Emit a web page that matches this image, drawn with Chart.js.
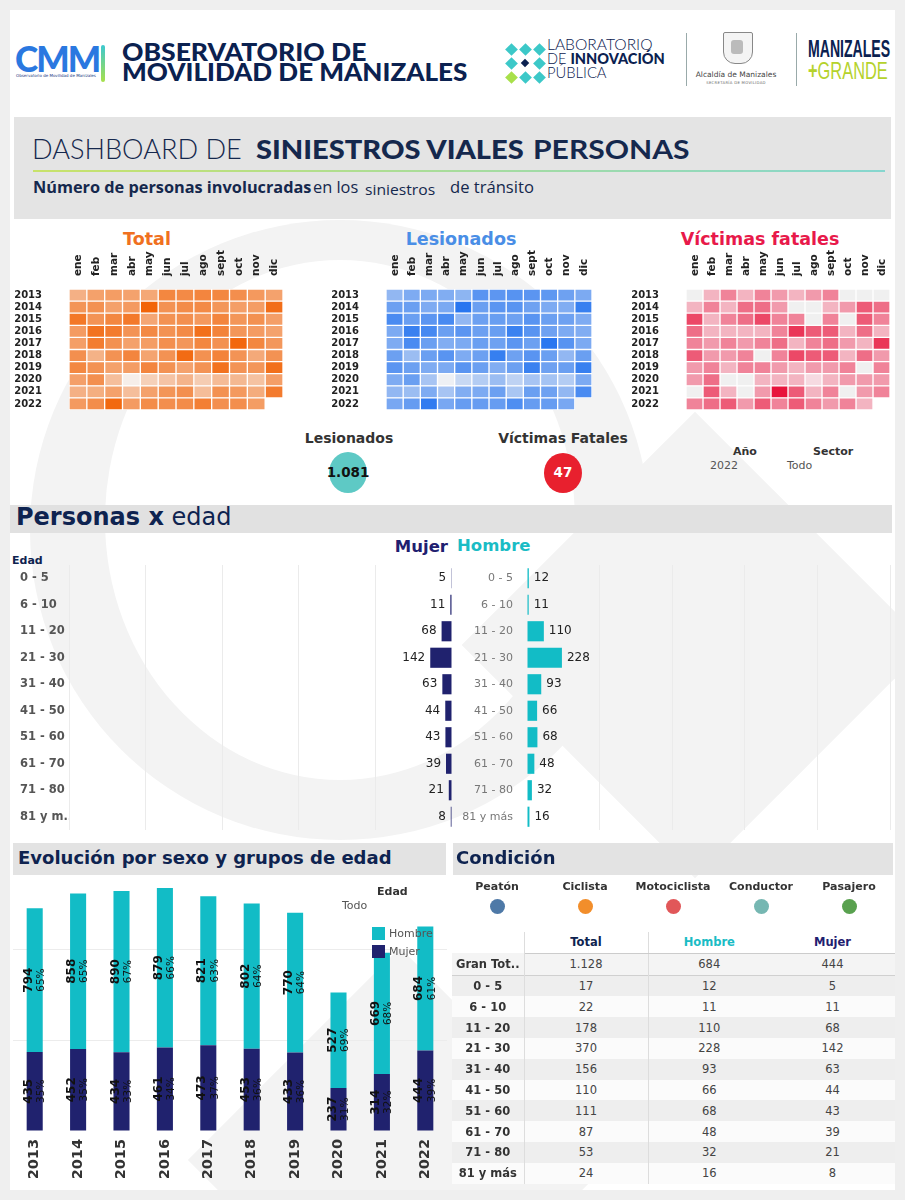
<!DOCTYPE html>
<html><head><meta charset="utf-8">
<script src="https://cdn.jsdelivr.net/npm/chart.js@4.4.1/dist/chart.umd.min.js"></script>
<style>
body{margin:0;width:905px;height:1200px;background:#efefef;position:relative;overflow:hidden;font-family:"DejaVu Sans",sans-serif;color:#222}
.a{position:absolute}
#card{left:10px;top:10px;width:885px;height:1180px;background:#fff;overflow:hidden}
.wm{position:absolute;background:#f3f3f3}
canvas{position:absolute}
.band{position:absolute;background:#e3e3e3}
.lbl{position:absolute;white-space:nowrap}
table{border-collapse:collapse}
</style></head><body>
<div id="card" class="a">
  <div class="wm" style="left:20px;top:210px;width:620px;height:620px;border-radius:50%;"></div>
  <div class="wm" style="left:95px;top:250px;width:470px;height:520px;border-radius:50%;background:#fff"></div>
  <div class="wm" style="left:520px;top:470px;width:330px;height:330px;transform:rotate(45deg)"></div>
  <div class="wm" style="left:240px;top:1000px;width:300px;height:300px;transform:rotate(45deg)"></div>
</div>

<!-- header -->
<div id="cmm" class="lbl" style="left:15px;top:39px;font-family:Lato,sans-serif;font-weight:900;font-size:36px;color:#2a78e0;letter-spacing:-2px;line-height:38px">CMM</div>
<div class="lbl" style="left:16px;top:73px;font-size:4px;color:#1a3a80">Observatorio de Movilidad de Manizales</div>
<div class="a" style="left:101px;top:45px;width:4px;height:37px;background:linear-gradient(#3cc8d0,#a8e04a);border-radius:2px"></div>
<div id="obs1" class="lbl" style="left:122px;top:40px;font-family:Lato,sans-serif;font-weight:900;font-size:24px;line-height:24px;color:#0b2150">OBSERVATORIO DE</div>
<div id="obs2" class="lbl" style="left:122px;top:60px;font-family:Lato,sans-serif;font-weight:900;font-size:24px;line-height:24px;color:#0b2150">MOVILIDAD DE MANIZALES</div>

<div id="labicon" class="a" style="left:500px;top:38px;width:44px;height:44px"></div>
<div id="lab1" class="lbl" style="left:547px;top:37px;font-family:Lato,sans-serif;font-size:15px;line-height:15px;color:#0b2150;font-weight:300">LABORATORIO</div>
<div id="lab2" class="lbl" style="left:547px;top:51px;font-family:Lato,sans-serif;font-size:15px;line-height:15px;color:#0b2150;font-weight:300">DE <b style="font-weight:900">INNOVACIÓN</b></div>
<div id="lab3" class="lbl" style="left:547px;top:65px;font-family:Lato,sans-serif;font-size:15px;line-height:15px;color:#0b2150;font-weight:300">PÚBLICA</div>
<div class="a" style="left:686px;top:33px;width:1px;height:53px;background:#9aa"></div>
<div class="a" style="left:723px;top:32px;width:28px;height:30px;border:1.5px solid #888;border-radius:2px 2px 12px 12px;background:#f4f4f4"></div>
<div class="a" style="left:731px;top:40px;width:12px;height:14px;background:#bbb;border-radius:3px"></div>
<div class="lbl" style="left:693px;top:70px;font-size:7.5px;color:#444;width:86px;text-align:center">Alcaldía de Manizales</div>
<div class="lbl" style="left:693px;top:80px;font-size:3.8px;color:#666;width:86px;text-align:center;letter-spacing:.3px">SECRETARÍA DE MOVILIDAD</div>
<div class="a" style="left:796px;top:33px;width:1px;height:53px;background:#9aa"></div>
<div id="mzl" class="lbl" style="left:808px;top:37px;font-family:'Liberation Sans',sans-serif;font-weight:bold;font-size:23px;line-height:25px;color:#0b2150">MANIZALES</div>
<div id="grd" class="lbl" style="left:808px;top:58px;font-family:'Liberation Sans',sans-serif;font-size:24px;line-height:26px;color:#b5d22c"><b>+</b>GRANDE</div>

<div class="band" style="left:14px;top:117px;width:877px;height:102px;background:#e4e4e4"></div>
<div id="ds1" class="lbl" style="left:32px;top:134px;font-family:Lato,sans-serif;font-size:27px;line-height:30px;color:#15284d;font-weight:300">DASHBOARD DE</div>
<div id="ds2" class="lbl" style="left:256px;top:134px;font-family:Lato,sans-serif;font-size:27px;line-height:30px;color:#15284d;font-weight:900">SINIESTROS VIALES</div>
<div id="ds3" class="lbl" style="left:533px;top:134px;font-family:Lato,sans-serif;font-size:27px;line-height:30px;color:#15284d;font-weight:700">PERSONAS</div>
<div class="a" style="left:33px;top:170px;width:852px;height:2px;background:linear-gradient(90deg,#c8e26a,#86d6cf)"></div>
<div id="sb1" class="lbl" style="left:33px;top:177px;font-family:'Open Sans',sans-serif;font-size:16px;line-height:20px;color:#15284d;font-weight:bold">Número de personas involucradas</div>
<div id="sb2" class="lbl" style="left:313px;top:177px;font-family:'Open Sans',sans-serif;font-size:16px;line-height:20px;color:#15284d">en los</div>
<div id="sb3" class="lbl" style="left:365px;top:179px;font-family:'Open Sans',sans-serif;font-size:15px;line-height:20px;color:#15284d">siniestros</div>
<div id="sb4" class="lbl" style="left:450px;top:177px;font-family:'Open Sans',sans-serif;font-size:16px;line-height:20px;color:#15284d">de tránsito</div>

<!-- heatmap titles -->
<div class="lbl" style="left:97px;top:229px;width:100px;text-align:center;font-weight:bold;font-size:17.5px;color:#f07020">Total</div>
<div class="lbl" style="left:381px;top:229px;width:160px;text-align:center;font-weight:bold;font-size:17.5px;color:#4a8ee6">Lesionados</div>
<div class="lbl" style="left:660px;top:229px;width:200px;text-align:center;font-weight:bold;font-size:17.5px;color:#e8194a">Víctimas fatales</div>
<canvas id="hmTotal" width="270" height="160" style="left:15px;top:250px"></canvas>
<canvas id="hmLes" width="262" height="160" style="left:332px;top:250px"></canvas>
<canvas id="hmFat" width="260" height="160" style="left:632px;top:250px"></canvas>

<!-- KPIs -->
<div class="lbl" style="left:289px;top:430px;width:120px;text-align:center;font-weight:bold;font-size:14px;color:#333">Lesionados</div>
<div class="a" style="left:329px;top:452px;width:38px;height:41px;border-radius:50%;background:#5ec9c5"></div>
<div id="kpiLes" class="lbl" style="left:318px;top:464px;width:60px;text-align:center;font-weight:bold;font-size:13.5px;color:#111"></div>
<div class="lbl" style="left:483px;top:430px;width:160px;text-align:center;font-weight:bold;font-size:14px;color:#333">Víctimas Fatales</div>
<div class="a" style="left:544px;top:453px;width:38px;height:40px;border-radius:50%;background:#e8202e"></div>
<div id="kpiFat" class="lbl" style="left:533px;top:464px;width:60px;text-align:center;font-weight:bold;font-size:13.5px;color:#fff"></div>
<div class="lbl" style="left:733px;top:445px;font-weight:bold;font-size:11px;color:#333">Año</div>
<div class="lbl" style="left:710px;top:459px;font-size:11px;color:#555">2022</div>
<div class="lbl" style="left:813px;top:445px;font-weight:bold;font-size:11px;color:#333">Sector</div>
<div class="lbl" style="left:787px;top:459px;font-size:11px;color:#555">Todo</div>

<!-- Personas x edad -->
<div class="band" style="left:10px;top:505px;width:882px;height:28px;background:#e1e1e1"></div>
<div class="lbl" style="left:16px;top:503px;font-size:24px;color:#0e2350"><b>Personas x</b> edad</div>
<div class="lbl" style="left:12px;top:554px;font-weight:bold;font-size:11px;color:#0e2350">Edad</div>
<div class="lbl" style="left:330px;top:537px;width:118px;text-align:right;font-weight:bold;font-size:16.5px;color:#1f2070">Mujer</div>
<div class="lbl" style="left:457px;top:536px;font-weight:bold;font-size:16.5px;color:#1abcc5">Hombre</div>
<canvas id="pyrM" width="440" height="265" style="left:15px;top:565px"></canvas>
<canvas id="pyrH" width="435" height="265" style="left:460px;top:565px"></canvas>

<!-- Evolución -->
<canvas id="evo" width="434" height="326" style="left:13px;top:859px"></canvas>
<div class="band" style="left:13px;top:843px;width:433px;height:32px"></div>
<div class="lbl" style="left:18px;top:847px;font-weight:bold;font-size:18px;color:#0e2350">Evolución por sexo y grupos de edad</div>
<div class="lbl" style="left:377px;top:885px;font-weight:bold;font-size:11px;color:#333">Edad</div>
<div class="lbl" style="left:342px;top:899px;font-size:11px;color:#555">Todo</div>
<div class="a" style="left:372px;top:927px;width:13px;height:13px;background:#12bcc6"></div>
<div class="lbl" style="left:389px;top:927px;font-size:11px;color:#555">Hombre</div>
<div class="a" style="left:372px;top:945px;width:13px;height:13px;background:#20226e"></div>
<div class="lbl" style="left:389px;top:945px;font-size:11px;color:#555">Mujer</div>

<!-- Condición -->
<div class="band" style="left:453px;top:843px;width:440px;height:32px"></div>
<div class="lbl" style="left:456px;top:847px;font-weight:bold;font-size:18px;color:#0e2350">Condición</div>
<div id="condLegend"></div>
<div id="tableWrap" class="a" style="left:452px;top:932px;width:443px"></div>

<script>
// ---------- data ----------
const years = ['2013','2014','2015','2016','2017','2018','2019','2020','2021','2022'];
const months = ['ene','feb','mar','abr','may','jun','jul','ago','sept','oct','nov','dic'];
const lesionadosMensual = [
  [76, 85, 86, 84, 78, 104, 102, 105, 103, 101, 93, 86],
  [94, 95, 85, 87, 131, 95, 103, 104, 93, 86, 84, 122],
  [112, 95, 103, 113, 76, 94, 96, 93, 104, 95, 93, 85],
  [86, 121, 114, 95, 103, 94, 96, 120, 104, 93, 86, 84],
  [85, 112, 95, 84, 86, 95, 93, 103, 94, 130, 105, 86],
  [94, 72, 95, 104, 85, 94, 123, 93, 104, 95, 76, 95],
  [103, 94, 85, 86, 104, 95, 84, 94, 121, 93, 95, 122],
  [85, 95, 67, 45, 55, 62, 72, 58, 67, 68, 62, 86],
  [76, 72, 85, 67, 84, 86, 94, 66, 95, 93, 76, 112],
  [88, 97, 126, 88, 97, 97, 97, 109, 97, 97, 88, null]
];
const fatalesMensual = [
  [0, 2, 4, 2, 4, 3, 2, 3, 4, 0, 0, 0],
  [2, 4, 2, 5, 5, 3, 0, 0, 2, 3, 6, 5],
  [7, 2, 4, 5, 7, 4, 4, 0, 4, 0, 6, 4],
  [5, 2, 2, 2, 2, 4, 8, 6, 6, 2, 5, 2],
  [4, 3, 4, 3, 4, 5, 2, 4, 5, 3, 2, 8],
  [6, 3, 3, 4, 0, 4, 7, 6, 6, 2, 5, 3],
  [3, 4, 2, 4, 4, 3, 2, 3, 3, 4, 0, 4],
  [3, 5, 0, 0, 2, 2, 2, 1, 2, 3, 3, 3],
  [0, 6, 2, 0, 3, 10, 6, 2, 4, 0, 3, 4],
  [4, 5, 6, 3, 6, 4, 6, 4, 3, 4, 2, null]
];
const edades = ['0 - 5','6 - 10','11 - 20','21 - 30','31 - 40','41 - 50','51 - 60','61 - 70','71 - 80','81 y más'];
const mujerEdad = [5, 11, 68, 142, 63, 44, 43, 39, 21, 8];
const hombreEdad = [12, 11, 110, 228, 93, 66, 68, 48, 32, 16];
const hombreAnual = [794, 858, 890, 879, 821, 802, 770, 527, 669, 684];
const mujerAnual = [435, 452, 434, 461, 473, 453, 433, 237, 314, 444];
const condiciones = ['Peatón','Ciclista','Motociclista','Conductor','Pasajero'];
const condColores = ['#4e79a7','#f28e2b','#e15759','#76b7b2','#59a14f'];

// ---------- helpers ----------
const fmt = n => String(n).replace(/\B(?=(\d{3})+(?!\d))/g, '.');
function mix(a, b, t){ t = Math.pow(Math.max(0, Math.min(1, t)), 0.75); return 'rgb(' + a.map((v,i)=>Math.round(v + (b[i]-v)*t)).join(',') + ')'; }
function fit(id, w){ const el = document.getElementById(id); const r = w / el.offsetWidth; el.style.transformOrigin = '0 0'; el.style.transform = 'scaleX(' + r + ')'; }
fit('cmm', 84); fit('obs1', 245); fit('obs2', 345);
fit('lab1', 105); fit('lab2', 118); fit('lab3', 60);
fit('mzl', 82); fit('grd', 80);
fit('ds1', 210); fit('ds2', 268); fit('ds3', 157);
fit('sb1', 278); fit('sb2', 45); fit('sb3', 70); fit('sb4', 84);

Chart.defaults.font.family = '"DejaVu Sans", sans-serif';
Chart.defaults.animation = false;
Chart.defaults.maintainAspectRatio = false;
Chart.defaults.responsive = false;
const noPad = s => { s.paddingTop = 0; s.paddingBottom = 0; };

const totalMensual = lesionadosMensual.map((row,i)=>row.map((v,j)=> v == null ? null : v + fatalesMensual[i][j]));
function range(m){ const f = m.flat().filter(v=>v!=null); return [Math.min(...f), Math.max(...f)]; }

// ---------- heatmaps ----------
function heatmap(id, matrix, colorFn){
  const datasets = months.map((m, j) => ({
    label: m,
    data: matrix.map(r => r[j] == null ? null : 1),
    backgroundColor: matrix.map(r => r[j] == null ? 'rgba(0,0,0,0)' : colorFn(r[j])),
    borderColor: '#ffffff', borderWidth: 1, borderSkipped: false,
    barPercentage: 1, categoryPercentage: 1
  }));
  new Chart(document.getElementById(id), {
    type: 'bar',
    data: { labels: years, datasets },
    options: {
      indexAxis: 'y',
      layout: { padding: { right: 2 } },
      plugins: { legend: { display: false }, tooltip: { enabled: false } },
      scales: {
        x: { stacked: true, position: 'top', min: 0, max: 12,
             afterBuildTicks: s => { s.ticks = months.map((_, i) => ({ value: i + 0.5 })); },
             afterFit: s => { s.height = 39; },
             ticks: { autoSkip: false, minRotation: 90, maxRotation: 90, padding: 5, labelOffset: 13, color: '#222',
                      font: { size: 10.5, weight: 'bold' }, callback: (v, i) => months[i] },
             grid: { display: false }, border: { display: false } },
        y: { stacked: true, afterFit: s => { s.width = 54; noPad(s); },
             ticks: { autoSkip: false, padding: 19, color: '#222', font: { size: 10, weight: 'bold' } },
             grid: { display: false }, border: { display: false } }
      }
    }
  });
}
const [tMin, tMax] = range(totalMensual);
const [lMin, lMax] = range(lesionadosMensual);
const [, fMax] = range(fatalesMensual);
heatmap('hmTotal', totalMensual, v => mix([246,238,233],[242,100,8],(v - tMin)/(tMax - tMin)));
heatmap('hmLes', lesionadosMensual, v => mix([238,240,244],[40,118,240],(v - lMin)/(lMax - lMin)));
heatmap('hmFat', fatalesMensual, v => v === 0 ? 'rgb(240,240,240)' : mix([246,218,225],[232,20,60],(v - 1)/(fMax - 1)));

// KPIs
const les2022 = lesionadosMensual[9].reduce((a,b)=>a+(b||0),0);
const fat2022 = fatalesMensual[9].reduce((a,b)=>a+(b||0),0);
document.getElementById('kpiLes').textContent = fmt(les2022);
document.getElementById('kpiFat').textContent = fmt(fat2022);

// ---------- pyramid ----------
function pyrLabels(side){
  return { id: 'pl' + side, afterDatasetsDraw(chart){
    const ctx = chart.ctx, ds = chart.data.datasets[0];
    ctx.save(); ctx.font = '12px "DejaVu Sans"'; ctx.fillStyle = '#222'; ctx.textBaseline = 'middle';
    ctx.textAlign = side === 'L' ? 'right' : 'left';
    chart.getDatasetMeta(0).data.forEach((el, i) => {
      ctx.fillText(String(ds.data[i]), el.x + (side === 'L' ? -5 : 5), el.y);
    });
    ctx.restore();
  }};
}
const gridCol = c => c.tick && c.tick.value === 0 ? 'rgba(0,0,0,0)' : '#ebebeb';
new Chart(document.getElementById('pyrM'), {
  type: 'bar',
  data: { labels: edades, datasets: [{ data: mujerEdad, backgroundColor: '#20226e', barPercentage: 0.76, categoryPercentage: 1 }] },
  options: { indexAxis: 'y', layout: { padding: { left: 5, right: 3 } },
    plugins: { legend: { display: false }, tooltip: { enabled: false } },
    scales: {
      x: { reverse: true, min: 0, max: 2500, afterFit: s => { s.height = 0; }, ticks: { display: false, stepSize: 500 }, grid: { color: gridCol, drawTicks: false }, border: { display: false } },
      y: { afterFit: s => { s.width = 49; noPad(s); }, grid: { display: false }, border: { display: false },
           ticks: { autoSkip: false, crossAlign: 'far', color: '#555', font: { size: 11.5, weight: 'bold' },
                    callback: (v, i) => edades[i].length > 7 ? edades[i].slice(0, 6) + '..' : edades[i] } }
    } },
  plugins: [pyrLabels('L')]
});
new Chart(document.getElementById('pyrH'), {
  type: 'bar',
  data: { labels: edades, datasets: [{ data: hombreEdad, backgroundColor: '#12bcc6', barPercentage: 0.76, categoryPercentage: 1 }] },
  options: { indexAxis: 'y', layout: { padding: { right: 5 } },
    plugins: { legend: { display: false }, tooltip: { enabled: false } },
    scales: {
      x: { min: 0, max: 2370, afterFit: s => { s.height = 0; }, ticks: { display: false, stepSize: 500 }, grid: { color: gridCol, drawTicks: false }, border: { display: false } },
      y: { afterFit: s => { s.width = 67; noPad(s); }, grid: { display: false }, border: { display: false },
           ticks: { autoSkip: false, padding: 6, color: '#777', font: { size: 11 } } }
    } },
  plugins: [pyrLabels('R')]
});

// ---------- evolución ----------
const evoLabels = { id: 'evoLabels', afterDatasetsDraw(chart){
  const ctx = chart.ctx;
  chart.data.datasets.forEach((ds, di) => {
    chart.getDatasetMeta(di).data.forEach((el, i) => {
      const v = ds.data[i], tot = hombreAnual[i] + mujerAnual[i];
      const pct = Math.round(v / tot * 100) + '%';
      ctx.save(); ctx.translate(el.x, (el.y + el.base) / 2); ctx.rotate(-Math.PI / 2);
      ctx.textAlign = 'center'; ctx.textBaseline = 'middle'; ctx.fillStyle = '#111';
      ctx.font = 'bold 12px "DejaVu Sans"'; ctx.fillText(String(v), 0, -6);
      ctx.font = '10.5px "DejaVu Sans"'; ctx.fillText(pct, 0, 6.5);
      ctx.restore();
    });
  });
}};
new Chart(document.getElementById('evo'), {
  type: 'bar',
  data: { labels: years, datasets: [
    { label: 'Mujer', data: mujerAnual, backgroundColor: '#20226e', barPercentage: 0.37, categoryPercentage: 1 },
    { label: 'Hombre', data: hombreAnual, backgroundColor: '#12bcc6', barPercentage: 0.37, categoryPercentage: 1 }
  ]},
  options: {
    plugins: { legend: { display: false }, tooltip: { enabled: false } },
    scales: {
      x: { stacked: true, afterFit: s => { s.height = 54; }, grid: { display: false }, border: { display: false },
           ticks: { minRotation: 90, maxRotation: 90, padding: 0, color: '#333', font: { size: 14.5, weight: 'bold' } } },
      y: { stacked: true, min: 0, max: 1500, afterFit: s => { s.width = 0; },
           ticks: { display: false, stepSize: 500 },
           grid: { color: c => (c.tick && (c.tick.value === 500 || c.tick.value === 1000)) ? '#ececec' : 'rgba(0,0,0,0)', drawTicks: false },
           border: { display: false } }
    } },
  plugins: [evoLabels]
});

// ---------- condición ----------
const centers = [497, 585, 673, 761, 849];
let lg = '';
condiciones.forEach((c, i) => {
  lg += '<div class="lbl" style="left:' + (centers[i] - 50) + 'px;top:880px;width:100px;text-align:center;font-weight:bold;font-size:11px;color:#333">' + c + '</div>';
  lg += '<div class="a" style="left:' + (centers[i] - 7.5) + 'px;top:899px;width:15px;height:15px;border-radius:50%;background:' + condColores[i] + '"></div>';
});
document.getElementById('condLegend').innerHTML = lg;

const gtH = hombreEdad.reduce((a,b)=>a+b,0), gtM = mujerEdad.reduce((a,b)=>a+b,0);
const cellBase = 'height:20.8px;padding:0;font-size:11.5px;text-align:center;';
let t = '<table style="width:443px;table-layout:fixed"><colgroup><col style="width:72px"><col style="width:124px"><col style="width:122px"><col style="width:125px"></colgroup>';
t += '<tr style="height:21px"><td style="border-right:1px solid #ddd"></td><td style="' + cellBase + 'font-weight:bold;color:#0e2350;border-right:1px solid #ddd;border-bottom:1px solid #ccc">Total</td><td style="' + cellBase + 'font-weight:bold;color:#1abcc5;border-bottom:1px solid #ccc">Hombre</td><td style="' + cellBase + 'font-weight:bold;color:#1f2070;border-bottom:1px solid #ccc">Mujer</td></tr>';
const rowHtml = (label, h, m, bg, extra) =>
  '<tr style="background:' + bg + ';' + (extra||'') + '"><td style="' + cellBase + 'font-weight:bold;color:#333;border-right:1px solid #ddd;white-space:nowrap;overflow:hidden">' + label + '</td>' +
  '<td style="' + cellBase + 'color:#444;border-right:1px solid #ddd">' + fmt(h + m) + '</td>' +
  '<td style="' + cellBase + 'color:#444">' + fmt(h) + '</td><td style="' + cellBase + 'color:#444">' + fmt(m) + '</td></tr>';
t += rowHtml('Gran Tot..', gtH, gtM, '#f4f4f4', 'border-bottom:1.5px solid #d0d0d0');
edades.forEach((e, i) => { t += rowHtml(e, hombreEdad[i], mujerEdad[i], i % 2 === 0 ? '#eeeeee' : '#fbfbfb'); });
t += '</table>';
document.getElementById('tableWrap').innerHTML = t;

// lab icon
const li = document.getElementById('labicon');
const dots = [[1,0,'#3cc8c8'],[0,1,'#3cc8c8'],[2,1,'#3cc8c8'],[1,1,'#0b2150'],[1,2,'#3cc8c8'],[0,2,'#a8e04a'],[2,0,'#3cc8c8'],[0,0,'#3cc8c8'],[2,2,'#3cc8c8']];
dots.forEach(([cx, cy, col]) => {
  const d = document.createElement('div');
  d.className = 'a';
  const s = (cx === 1 && cy === 1) ? 6 : 9;
  d.style.cssText = 'left:' + (cx * 14 + 11 - s/2) + 'px;top:' + (cy * 14 + 11 - s/2) + 'px;width:' + s + 'px;height:' + s + 'px;background:' + col + ';transform:rotate(45deg)';
  li.appendChild(d);
});
</script>
</body></html>
